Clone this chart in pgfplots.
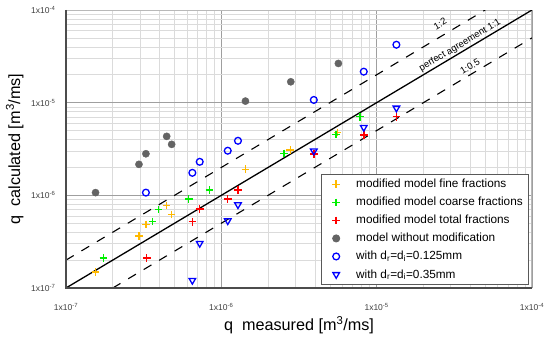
\documentclass[border=0pt]{standalone}
\usepackage{fontspec}
\setmainfont{Liberation Sans}
\usepackage{pgfplots}
\pgfplotsset{compat=1.18}
\definecolor{cOrange}{RGB}{255,185,0}
\definecolor{cGreen}{RGB}{0,240,0}
\definecolor{cRed}{RGB}{255,0,0}
\definecolor{cGray}{RGB}{100,100,100}
\definecolor{cBlue}{RGB}{0,0,255}
\begin{document}
\begin{tikzpicture}
\useasboundingbox (0,0) rectangle (550pt,337pt);
\begin{axis}[
  at={(66pt,49pt)}, anchor=south west,
  width=466pt, height=278pt, scale only axis,
  xmode=log, ymode=log,
  xmin=1e-7, xmax=1e-4, ymin=1e-7, ymax=1e-4,
  xtick={1e-7,1e-6,1e-5,1e-4}, ytick={1e-7,1e-6,1e-5,1e-4},
  xticklabels={1x10\textsuperscript{-7},1x10\textsuperscript{-6},1x10\textsuperscript{-5},1x10\textsuperscript{-4}},
  yticklabels={1x10\textsuperscript{-7},1x10\textsuperscript{-6},1x10\textsuperscript{-5},1x10\textsuperscript{-4}},
  ticklabel style={font=\fontsize{8.5}{9}\selectfont, text=black!75},
  xticklabel style={yshift=-12pt},
  yticklabel style={xshift=-7pt},
  major tick length=0pt, minor tick length=0pt,
  xmajorgrids, ymajorgrids, xminorgrids, yminorgrids,
  major grid style={gray!75, line width=0.9pt},
  minor grid style={gray!28, line width=0.6pt},
  axis line style={gray!55, line width=1pt},
  xlabel={q\ \ measured [m\textsuperscript{3}/ms]},
  ylabel={q\ \ calculated [m\textsuperscript{3}/ms]},
  label style={font=\fontsize{16.2}{18}\selectfont},
  xlabel style={at={(rel axis cs:0.5,-0.135)}, anchor=center},
  ylabel style={at={(rel axis cs:-0.11,0.5)}, anchor=center, rotate=0},
  legend style={at={(rel axis cs:0.994,0.011)}, anchor=south east,
    draw=gray!70!black, line width=0.8pt, fill=white,
    font=\fontsize{11.8}{13.5}\selectfont, row sep=4pt,
    inner xsep=4pt, inner ysep=3pt},
  legend image code/.code={\path[draw=none,fill=none] (0pt,0pt) -- (29pt,0pt); \draw[#1] plot[only marks] coordinates {(11pt,0pt)};},
  legend cell align=left,
  clip=true,
]
% reference lines
\addplot[black, line width=1.3pt, forget plot] coordinates {(1e-7,1e-7) (1e-4,1e-4)};
\addplot[black, line width=1.1pt, dash pattern=on 9pt off 9pt, forget plot] coordinates {(1e-7,2e-7) (5e-5,1e-4)};
\addplot[black, line width=1.1pt, dash pattern=on 9pt off 9pt, forget plot] coordinates {(2e-7,1e-7) (1e-4,5e-5)};
\node[rotate=30.8, font=\fontsize{9.5}{10}\selectfont, inner sep=0pt] at (axis cs:2.56e-5,7.1e-5) {1:2};
\node[rotate=30.8, font=\fontsize{9.5}{10}\selectfont, inner sep=0pt] at (axis cs:3.44e-5,4.15e-5) {perfect agreement 1:1};
\node[rotate=30.8, font=\fontsize{9.5}{10}\selectfont, inner sep=0pt] at (axis cs:3.99e-5,2.45e-5) {1:0.5};
% data
\addplot[only marks, mark=+, mark size=3.8pt, cOrange, line width=1.5pt] coordinates {
(1.55e-7,1.49e-7) (2.95e-7,3.64e-7) (3.27e-7,4.86e-7) (4.45e-7,7.80e-7)
(4.79e-7,6.24e-7) (1.43e-6,1.91e-6) (2.78e-6,3.08e-6) (5.6e-6,4.78e-6)};
\addlegendentry{modified model fine fractions}
\addplot[only marks, mark=+, mark size=3.8pt, cGreen, line width=1.5pt] coordinates {
(1.74e-7,2.12e-7) (3.60e-7,5.24e-7) (3.93e-7,7.06e-7) (6.17e-7,9.12e-7)
(8.37e-7,1.14e-6) (2.53e-6,2.84e-6) (5.48e-6,4.55e-6) (7.82e-6,7.05e-6)};
\addlegendentry{modified model coarse fractions}
\addplot[only marks, mark=+, mark size=3.8pt, cRed, line width=1.5pt] coordinates {
(3.31e-7,2.11e-7) (6.51e-7,5.19e-7) (7.26e-7,7.11e-7) (1.10e-6,9.12e-7)
(1.28e-6,1.14e-6) (3.94e-6,2.81e-6) (8.26e-6,4.47e-6) (1.34e-5,7.05e-6)};
\addlegendentry{modified model total fractions}
\addplot[only marks, mark=*, mark size=3.6pt, cGray, mark options={draw=cGray, fill=cGray}] coordinates {
(1.55e-7,1.07e-6) (2.95e-7,2.16e-6) (3.27e-7,2.81e-6) (4.45e-7,4.33e-6)
(4.79e-7,3.55e-6) (1.43e-6,1.04e-5) (2.80e-6,1.68e-5) (5.67e-6,2.65e-5)};
\addlegendentry{model without modification}
\addplot[only marks, mark=o, mark size=3.4pt, cBlue, line width=1.3pt] coordinates {
(3.27e-7,1.07e-6) (6.51e-7,1.75e-6) (7.26e-7,2.30e-6) (1.10e-6,3.03e-6)
(1.28e-6,3.88e-6) (3.94e-6,1.07e-5) (8.26e-6,2.16e-5) (1.34e-5,4.22e-5)};
\addlegendentry{with d\textsubscript{r}=d\textsubscript{i}=0.125mm}
\addplot[only marks, mark=triangle, mark size=3.8pt, cBlue, line width=1.3pt, mark options={rotate=180}] coordinates {
(6.51e-7,1.21e-7) (7.26e-7,3.03e-7) (1.10e-6,5.32e-7) (1.28e-6,7.92e-7)
(3.94e-6,3.01e-6) (8.26e-6,5.41e-6) (1.34e-5,8.75e-6)};
\addlegendentry{with d\textsubscript{r}=d\textsubscript{i}=0.35mm}
\end{axis}
\draw[gray!60!black, line width=1.3pt] (66pt,337pt-10pt) -- (66pt,49pt) -- (532pt,49pt);
\end{tikzpicture}
\end{document}
